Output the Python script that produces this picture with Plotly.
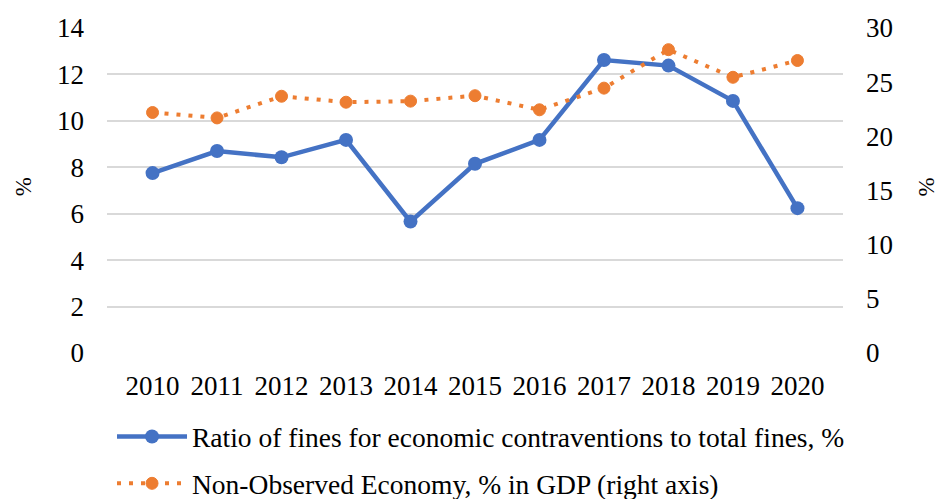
import plotly.graph_objects as go

years = ["2010", "2011", "2012", "2013", "2014", "2015", "2016", "2017", "2018", "2019", "2020"]
ratio_fines = [7.75, 8.70, 8.43, 9.18, 5.66, 8.15, 9.18, 12.62, 12.38, 10.86, 6.24]
noe_gdp = [22.2, 21.7, 23.7, 23.15, 23.25, 23.75, 22.45, 24.45, 28.0, 25.45, 27.0]

name_ratio = "Ratio of fines for economic contraventions to total fines, %"
name_noe = "Non-Observed Economy, % in GDP (right axis)"
axis_title = "%"

FONT = "Liberation Serif, Times New Roman, serif"
BLUE = "#4472C4"
ORANGE = "#ED7D31"
FS = 27

fig = go.Figure()
fig.add_trace(go.Scatter(
    x=years, y=ratio_fines, name=name_ratio, mode="lines+markers",
    line=dict(color=BLUE, width=4.5),
    marker=dict(color=BLUE, size=14),
    legendgroup="a", yaxis="y",
))
fig.add_trace(go.Scatter(
    x=years, y=noe_gdp, name=name_noe, mode="lines+markers",
    line=dict(color=ORANGE, width=4, dash="4px,8px"),
    marker=dict(color=ORANGE, size=12, line=dict(color=ORANGE, width=1)),
    legendgroup="b", yaxis="y2",
))

fig.add_annotation(
    text=axis_title, xref="paper", yref="paper", x=-0.114, y=0.51,
    xanchor="center", yanchor="middle",
    showarrow=False, textangle=-90, font=dict(family=FONT, size=23, color="#000"),
)
fig.add_annotation(
    text=axis_title, xref="paper", yref="paper", x=1.113, y=0.51,
    xanchor="center", yanchor="middle",
    showarrow=False, textangle=-90, font=dict(family=FONT, size=23, color="#000"),
)

fig.update_layout(
    width=943, height=499,
    margin=dict(l=99, r=108, t=20, b=154, autoexpand=False),
    paper_bgcolor="white", plot_bgcolor="white",
    font=dict(family=FONT, size=FS, color="#000000"),
    showlegend=True,
    legend=dict(
        xref="container", yref="container",
        x=0.1103, y=0.19, xanchor="left", yanchor="top",
        font=dict(family=FONT, size=27.5, color="#000000"),
        tracegroupgap=8, itemwidth=70, bgcolor="rgba(0,0,0,0)",
    ),
    xaxis=dict(
        showgrid=False, showline=False, zeroline=False, tickangle=0,
        tickfont=dict(family=FONT, size=FS), ticklabelstandoff=14,
    ),
    yaxis=dict(
        range=[0, 14], dtick=2, showgrid=True, gridcolor="#D9D9D9", gridwidth=1.5,
        zeroline=False, showline=False,
        tickfont=dict(family=FONT, size=FS), ticklabelstandoff=22,
    ),
    yaxis2=dict(
        range=[0, 30], dtick=5, overlaying="y", side="right", showgrid=False,
        zeroline=False, showline=False,
        tickfont=dict(family=FONT, size=FS), ticklabelstandoff=22,
    ),
)

fig.write_html("out.html")
